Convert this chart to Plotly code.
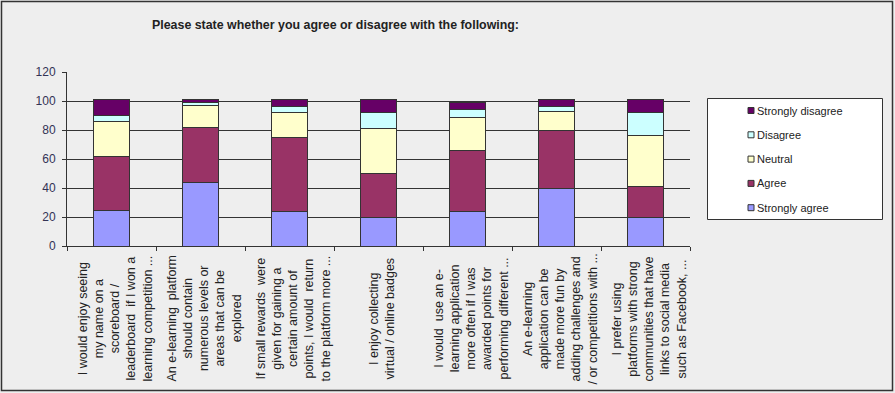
import plotly.graph_objects as go

# ---- data ----
categories = [
    "I would enjoy seeing<br>my name on a<br>scoreboard /<br>leaderboard  if I won a<br>learning competition ...",
    "An e-learning  platform<br>should contain<br>numerous levels or<br>areas that can be<br>explored",
    "If small rewards  were<br>given for gaining a<br>certain amount of<br>points, I would  return<br>to the platform more ...",
    "I enjoy collecting<br>virtual / online badges",
    "I would  use an e-<br>learning application<br>more often if I was<br>awarded points for<br>performing different ...",
    "An e-learning<br>application can be<br>made more fun by<br>adding challenges and<br>/ or competitions with ...",
    "I prefer using<br>platforms with strong<br>communities that have<br>links to social media<br>such as Facebook, ...",
]
cat_keys = ["Q1", "Q2", "Q3", "Q4", "Q5", "Q6", "Q7"]

strongly_agree    = [24.6, 43.9, 23.9, 19.8, 23.9, 39.8, 19.8]
agree             = [37.2, 38.0, 51.1, 30.3, 42.3, 40.0, 21.4]
neutral           = [24.2, 15.1, 17.2, 31.0, 22.5, 13.1, 35.1]
disagree          = [3.9, 1.8, 4.1, 10.8, 5.3, 3.4, 15.9]
strongly_disagree = [11.3, 2.4, 4.9, 9.3, 5.1, 4.9, 9.0]

series_names = ["Strongly agree", "Agree", "Neutral", "Disagree", "Strongly disagree"]
series_values = [strongly_agree, agree, neutral, disagree, strongly_disagree]
series_colors = ["#9999FF", "#993366", "#FFFFCC", "#CCFFFF", "#660066"]

y_ticks = [0, 20, 40, 60, 80, 100, 120]
title_text = "Please state whether you agree or disagree with the following:"

# ---- layout geometry ----
W, H = 895, 393
L, R, T, B = 67, 690, 72, 246
PW, PH = R - L, B - T

def px_x(px):
    return (px - L) / PW

def px_y(py):
    return (B - py) / PH

FONT = "Arial, Liberation Sans, sans-serif"
DARK = "#333333"

fig = go.Figure()
for name, vals, col in zip(series_names, series_values, series_colors):
    fig.add_trace(go.Bar(
        x=cat_keys, y=vals, name=name,
        marker=dict(color=col, line=dict(color=DARK, width=1)),
        showlegend=False, hoverinfo="skip",
    ))

shapes = []
annotations = []

# outer border
shapes.append(dict(type="rect", xref="paper", yref="paper",
                   x0=px_x(1.5), x1=px_x(892.5), y0=px_y(1.5), y1=px_y(390.5),
                   line=dict(color=DARK, width=1.5), fillcolor="rgba(0,0,0,0)", layer="below"))

# legend box
shapes.append(dict(type="rect", xref="paper", yref="paper",
                   x0=px_x(707.5), x1=px_x(882.5), y0=px_y(98.5), y1=px_y(219.5),
                   line=dict(color=DARK, width=1), fillcolor="#FFFFFF"))
legend_rows = [110.5, 134.8, 159.1, 183.4, 207.7]
for i, (name, col) in enumerate(zip(series_names[::-1], series_colors[::-1])):
    cy = legend_rows[i]
    shapes.append(dict(type="rect", xref="paper", yref="paper",
                       x0=px_x(748), x1=px_x(754), y0=px_y(cy - 3), y1=px_y(cy + 3),
                       line=dict(color=DARK, width=1), fillcolor=col))
    annotations.append(dict(text=name, xref="paper", yref="paper",
                            x=px_x(755), y=px_y(cy), xanchor="left", yanchor="middle",
                            showarrow=False, font=dict(family=FONT, size=11, color="#222222")))

# title
annotations.append(dict(text="<b>" + title_text + "</b>", xref="paper", yref="paper",
                        x=px_x(335), y=px_y(25), xanchor="center", yanchor="middle",
                        showarrow=False, font=dict(family=FONT, size=12.4, color="#222222")))

# category labels
for key, label in zip(cat_keys, categories):
    annotations.append(dict(text=label, xref="x", yref="paper",
                            x=key, y=px_y(319), xanchor="center", yanchor="middle",
                            xshift=3, textangle=-90, align="center", showarrow=False,
                            font=dict(family=FONT, size=12.5, color="#222222")))

fig.update_layout(
    width=W, height=H,
    margin=dict(l=L, r=W - R, t=T, b=H - B, pad=0),
    paper_bgcolor="#EEEEEE", plot_bgcolor="#EEEEEE",
    barmode="stack", bargap=0.595,
    showlegend=False,
    shapes=shapes, annotations=annotations,
    xaxis=dict(type="category", tickson="boundaries", ticks="outside", ticklen=4,
               tickcolor=DARK, showticklabels=False, showgrid=False,
               showline=True, linecolor=DARK, linewidth=1, zeroline=False),
    yaxis=dict(range=[0, 120], tickvals=y_ticks, ticks="outside", ticklen=4,
               tickcolor=DARK, showgrid=True, gridcolor=DARK, gridwidth=1,
               showline=True, linecolor=DARK, linewidth=1, zeroline=False,
               ticklabelstandoff=4,
               tickfont=dict(family=FONT, size=12, color="#333355")),
)

fig.write_html("out.html", config={"displayModeBar": False},
               post_script="document.body.style.margin='0px';")
